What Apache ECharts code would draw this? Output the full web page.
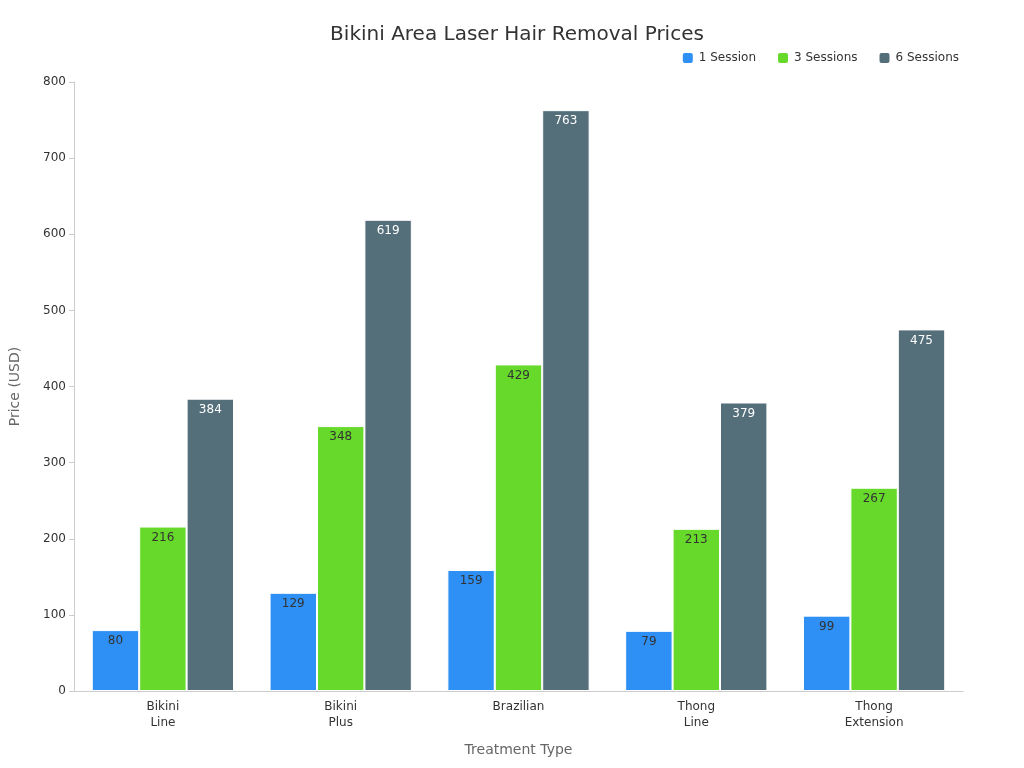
<!DOCTYPE html>
<html>
<head>
<meta charset="utf-8">
<script src="https://cdn.jsdelivr.net/npm/echarts@6/dist/echarts.min.js"></script>
<style>
  html, body { margin: 0; padding: 0; background: #fff; }
  #chart { width: 1024px; height: 768px; }
</style>
</head>
<body>
<div id="chart"></div>
<script>
// Chart data
const categories = ['Bikini\nLine', 'Bikini\nPlus', 'Brazilian', 'Thong\nLine', 'Thong\nExtension']
const oneSession = [80, 129, 159, 79, 99]
const threeSessions = [216, 348, 429, 213, 267]
const sixSessions = [384, 619, 763, 379, 475]

const chart = echarts.init(document.getElementById('chart'))

const barSeries = (name, data, color, labelColor) => ({
    name: name,
    type: 'bar',
    data: data,
    barGap: '0%',
    barCategoryGap: '20%',
    itemStyle: { color: color, borderColor: '#fff', borderWidth: 1 },
    label: {
        show: true,
        position: 'insideTop',
        color: labelColor,
        fontSize: 12,
        fontFamily: 'DejaVu Sans'
    }
})

chart.setOption({
    textStyle: { fontFamily: 'DejaVu Sans' },
    title: {
        text: 'Bikini Area Laser Hair Removal Prices',
        left: 512,
        top: 20,
        textAlign: 'center',
        textStyle: { fontSize: 20, fontWeight: 'normal', color: '#333' }
    },
    legend: {
        right: 60,
        top: 46,
        itemWidth: 12,
        itemHeight: 12,
        itemGap: 20,
        textStyle: { fontSize: 12, color: '#333' }
    },
    grid: { left: 68, right: 61, top: 82, bottom: 77 },
    xAxis: {
        type: 'category',
        data: categories,
        name: 'Treatment Type',
        nameLocation: 'middle',
        nameGap: 52,
        nameTextStyle: { fontSize: 14, color: '#666' },
        axisTick: { show: false },
        axisLine: { lineStyle: { color: '#ccc' } },
        axisLabel: { color: '#333', fontSize: 12, lineHeight: 16 }
    },
    yAxis: {
        type: 'value',
        min: 0,
        max: 800,
        interval: 100,
        name: 'Price (USD)',
        nameLocation: 'middle',
        nameGap: 52,
        nameTextStyle: { fontSize: 14, color: '#666' },
        axisLine: { show: true, lineStyle: { color: '#ccc' } },
        axisTick: { show: true, lineStyle: { color: '#ccc' } },
        splitLine: { show: false },
        axisLabel: { color: '#333', fontSize: 12 }
    },
    series: [
        barSeries('1 Session', oneSession, '#2E90F5', '#333'),
        barSeries('3 Sessions', threeSessions, '#66D92A', '#333'),
        barSeries('6 Sessions', sixSessions, '#546E7A', '#fff')
    ]
})
</script>
</body>
</html>
